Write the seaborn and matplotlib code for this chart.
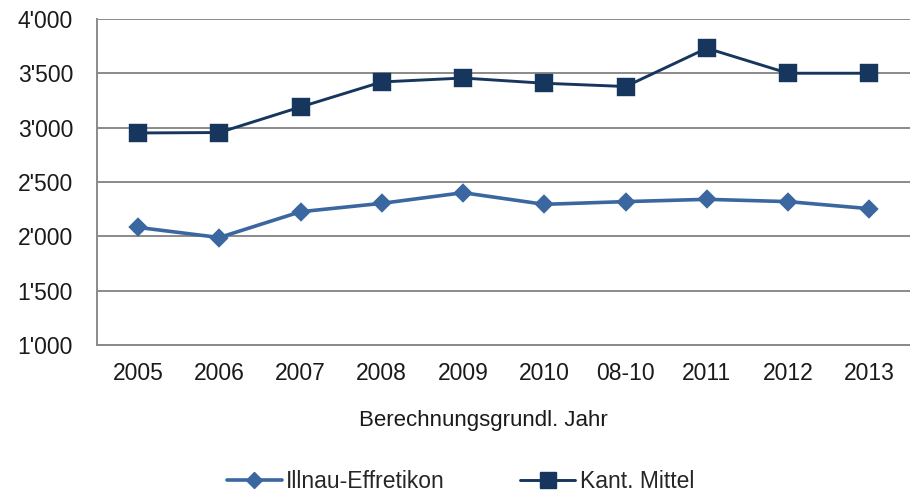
import matplotlib
matplotlib.use("Agg")
import matplotlib.pyplot as plt
import seaborn as sns
import pandas as pd
from matplotlib.ticker import FuncFormatter
from matplotlib.lines import Line2D

# Daten
jahre = ["2005", "2006", "2007", "2008", "2009", "2010", "08-10", "2011", "2012", "2013"]
illnau = [2083, 1990, 2227, 2304, 2402, 2295, 2320, 2341, 2320, 2255]
kanton = [2951, 2955, 3190, 3420, 3456, 3408, 3378, 3730, 3500, 3500]
serien = ["Illnau-Effretikon", "Kant. Mittel"]
farben = ["#3a67a0", "#17365d"]

df = pd.DataFrame({
    "Jahr": jahre * 2,
    "Wert": illnau + kanton,
    "Serie": [serien[0]] * len(jahre) + [serien[1]] * len(jahre),
})

sns.set_style("white")
plt.rcParams["font.family"] = ["Liberation Sans", "DejaVu Sans"]

fig = plt.figure(figsize=(9.1, 4.96), dpi=100)
ax = fig.add_axes([0.107, 0.304, 0.893, 0.658])

sns.pointplot(data=df, x="Jahr", y="Wert", hue="Serie", order=jahre,
              palette=farben, markers=["D", "s"], linestyles=["-", "-"],
              errorbar=None, markersize=9, linewidth=2.3, ax=ax, legend=False)

# Marker etwas anpassen
for line, ms, lw in zip(ax.lines, [8.5, 11], [2.6, 2.1]):
    line.set_markersize(ms)
    line.set_linewidth(lw)

ax.set_ylim(1000, 4000)
ax.set_xlim(-0.5, len(jahre) - 0.5)
ax.set_yticks(range(1000, 4001, 500))
ax.yaxis.set_major_formatter(FuncFormatter(lambda v, p: f"{int(v):,}".replace(",", "'")))
ax.grid(axis="y", color="#8a8a8a", linewidth=1.4)
ax.set_axisbelow(True)

for s in ["top", "right"]:
    ax.spines[s].set_visible(False)
for s in ["left", "bottom"]:
    ax.spines[s].set_color("#8a8a8a")
    ax.spines[s].set_linewidth(1.4)

ax.set_xticks([i + 0.5 for i in range(len(jahre) - 1)], minor=True)
ax.tick_params(axis="x", which="major", length=0, pad=12, labelsize=16.5, colors="#1a1a1a")
ax.tick_params(axis="x", which="minor", length=6.5, width=1.4, color="#8a8a8a")
ax.tick_params(axis="y", length=6.5, width=1.4, color="#8a8a8a", pad=11, labelsize=16.5, labelcolor="#1a1a1a")

ax.set_xlabel("Berechnungsgrundl. Jahr", fontsize=16, color="#1a1a1a")
ax.xaxis.set_label_coords(0.475, -0.2)
ax.set_ylabel("")

handles = [
    Line2D([], [], color=farben[0], marker="D", markersize=8.5, linewidth=2.6),
    Line2D([], [], color=farben[1], marker="s", markersize=11, linewidth=2.1),
]
fig.legend(handles, serien, loc="center", bbox_to_anchor=(0.506, 0.03), ncol=2,
           frameon=False, fontsize=16.5, handlelength=2.4, columnspacing=3.3, handletextpad=0.2)

fig.savefig("out.png", dpi=100)
